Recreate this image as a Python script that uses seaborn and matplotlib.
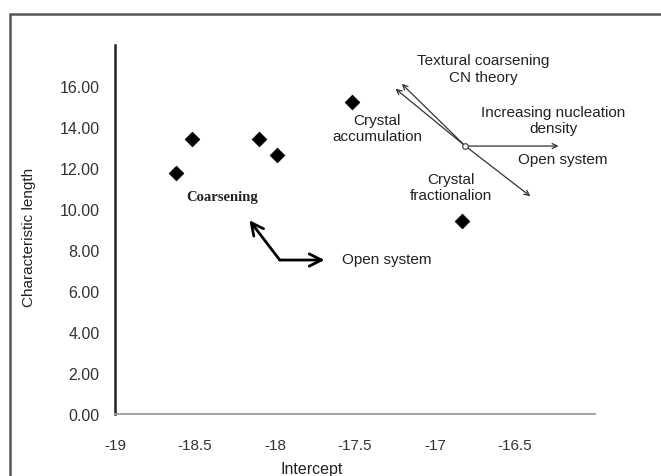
import matplotlib
matplotlib.use("Agg")
import matplotlib.pyplot as plt
import seaborn as sns
import pandas as pd
from matplotlib.patches import Rectangle

# values
intercept = [-18.62, -18.52, -18.10, -17.99, -17.52, -16.83]
char_length = [11.75, 13.40, 13.40, 12.65, 15.20, 9.40]

x_ticks = [-19, -18.5, -18, -17.5, -17, -16.5]
x_tick_labels = ["-19", "-18.5", "-18", "-17.5", "-17", "-16.5"]
y_ticks = [0, 2, 4, 6, 8, 10, 12, 14, 16]
y_tick_labels = ["%.2f" % v for v in y_ticks]

df = pd.DataFrame({"Intercept": intercept, "Characteristic length": char_length})

sns.set_style("white")
plt.rcParams["font.family"] = ["Liberation Sans", "DejaVu Sans"]

fig = plt.figure(figsize=(6.61, 4.77), dpi=100)
ax = fig.add_axes([0.174, 0.130, 0.726, 0.7736])

sns.scatterplot(data=df, x="Intercept", y="Characteristic length", marker="D",
                s=55, color="black", edgecolor="black", ax=ax, zorder=3)

ax.set_xlim(-19, -16)
ax.set_ylim(0, 18)
ax.set_xticks(x_ticks)
ax.set_xticklabels(x_tick_labels, fontsize=11, color="#333333")
ax.set_yticks(y_ticks)
ax.set_yticklabels(y_tick_labels, fontsize=11.5, color="#333333")
ax.tick_params(axis="x", length=5, width=1, color="#999999", pad=12, direction="out")
ax.tick_params(axis="y", length=0, pad=11)

for s in ["top", "right"]:
    ax.spines[s].set_visible(False)
ax.spines["left"].set_color("#222222")
ax.spines["left"].set_linewidth(1.8)
ax.spines["bottom"].set_color("#999999")
ax.spines["bottom"].set_linewidth(1.3)

ax.set_xlabel("Intercept", fontsize=11.5, color="#222222")
ax.xaxis.set_label_coords(0.41, -0.128)
ax.set_ylabel("Characteristic length", fontsize=11, color="#222222")
ax.yaxis.set_label_coords(-0.165, 0.48)

# right-hand schematic: nucleation density / coarsening lines
center = (-16.81, 13.07)
thin = dict(arrowstyle="->", color="#333333", lw=0.9, mutation_scale=9)
ax.annotate("", xy=(-17.22, 16.20), xytext=center, arrowprops=thin)
ax.annotate("", xy=(-17.26, 15.95), xytext=center, arrowprops=thin)
ax.annotate("", xy=(-16.39, 10.54), xytext=center, arrowprops=thin)
ax.annotate("", xy=(-16.21, 13.07), xytext=center, arrowprops=thin)
ax.plot([center[0]], [center[1]], marker="o", ms=4, mfc="white", mec="#333333", mew=0.8, zorder=4)

# left schematic arrows
corner = (-17.97, 7.51)
thick = dict(arrowstyle="->", color="black", lw=2, mutation_scale=22, shrinkA=0, shrinkB=0)
ax.annotate("", xy=(-18.16, 9.45), xytext=corner, arrowprops=thick)
ax.annotate("", xy=(-17.69, 7.51), xytext=corner, arrowprops=thick)

txt = dict(fontsize=11, color="#222222", ha="center", va="center")
ax.text(-16.70, 16.85, "Textural coarsening\nCN theory", linespacing=1.2, **txt)
ax.text(-16.26, 14.35, "Increasing nucleation\ndensity", linespacing=1.2, **txt)
ax.text(-16.20, 12.44, "Open system", **txt)
ax.text(-17.36, 13.95, "Crystal\naccumulation", linespacing=1.2, **txt)
ax.text(-16.90, 11.07, "Crystal\nfractionalion", linespacing=1.2, **txt)
ax.text(-17.30, 7.56, "Open system", **txt)
ax.text(-18.33, 10.63, "Coarsening", fontsize=10.5, fontweight="bold",
        family="Liberation Serif", color="#222222", ha="center", va="center")

# outer frame of the original figure
fig.patches.append(Rectangle((0.0151, -0.1), 1.2, 1.0686, transform=fig.transFigure,
                             fill=False, edgecolor="#555555", lw=1.8))

fig.savefig("out.png", dpi=100)
